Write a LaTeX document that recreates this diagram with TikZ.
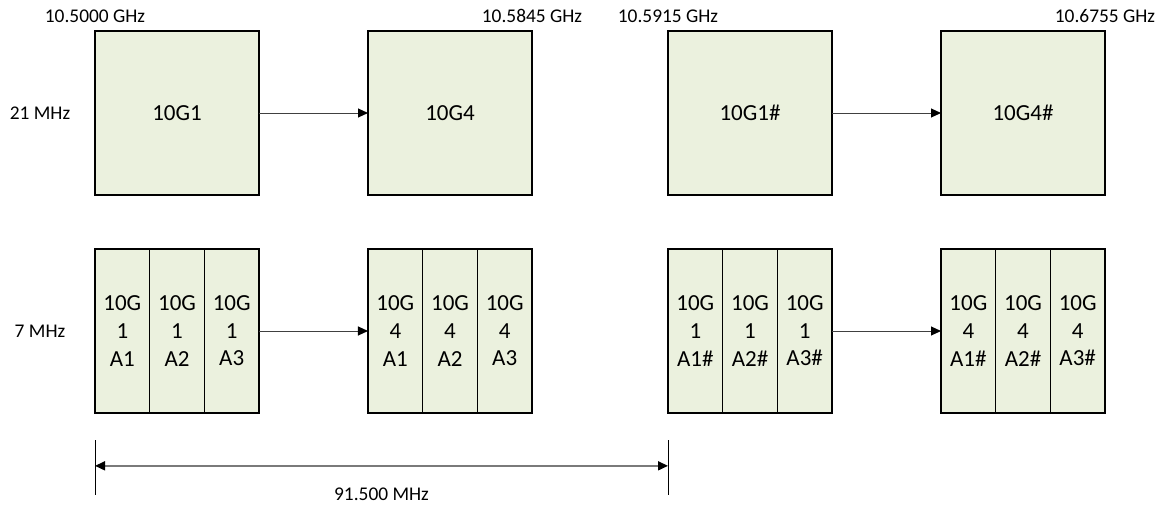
\documentclass[tikz,border=0pt]{standalone}
\usepackage{fontspec}
\setmainfont{Carlito}
\usepackage{tikz}
\usetikzlibrary{arrows.meta,positioning,calc}
\definecolor{ink}{HTML}{000000}
\definecolor{band}{HTML}{EBF1DE}
\definecolor{wire}{HTML}{404040}
\definecolor{span}{HTML}{7A7A7A}
\tikzset{
  blk/.style={draw=ink,fill=band,line width=1.5pt,outer sep=0pt,minimum width=164pt,
    minimum height=164pt,align=center,font=\fontsize{23}{27.6}\selectfont,text=ink},
  cell/.style={blk,minimum width=54.67pt,inner sep=0pt},
  link/.style={-{Triangle[length=10pt,width=9pt,color=ink]},line width=1pt,color=wire},
  dim/.style={{Triangle[length=10pt,width=9pt,color=ink]}-{Triangle[length=10pt,width=9pt,color=ink]},
    line width=1.6pt,color=span},
  tick/.style={line width=0.8pt,color=ink},
  lbl/.style={font=\fontsize{19.4}{23}\selectfont,text=ink,inner sep=0pt}
}
\begin{document}
\begin{tikzpicture}[x=1pt,y=-1pt]
  \useasboundingbox (0,0) rectangle (1162,506);
  % 21 MHz channels
  \node[blk] (g1) at (177,113) {10G1};
  \node[blk] (g4) at (450,113) {10G4};
  \node[blk] (g1s) at (750,113) {10G1\#};
  \node[blk] (g4s) at (1023,113) {10G4\#};
  % 7 MHz sub-channels
  \node[cell] (g1a1) at (122.33,331) {10G\\1\\A1};
  \node[cell,right=0pt of g1a1] (g1a2) {10G\\1\\A2};
  \node[cell,right=0pt of g1a2] (g1a3) {10G\\1\\A3};
  \node[cell] (g4a1) at (395.33,331) {10G\\4\\A1};
  \node[cell,right=0pt of g4a1] (g4a2) {10G\\4\\A2};
  \node[cell,right=0pt of g4a2] (g4a3) {10G\\4\\A3};
  \node[cell] (g1a1s) at (695.33,331) {10G\\1\\A1\#};
  \node[cell,right=0pt of g1a1s] (g1a2s) {10G\\1\\A2\#};
  \node[cell,right=0pt of g1a2s] (g1a3s) {10G\\1\\A3\#};
  \node[cell] (g4a1s) at (968.33,331) {10G\\4\\A1\#};
  \node[cell,right=0pt of g4a1s] (g4a2s) {10G\\4\\A2\#};
  \node[cell,right=0pt of g4a2s] (g4a3s) {10G\\4\\A3\#};
  \draw[link] (g1) -- (g4);
  \draw[link] (g1s) -- (g4s);
  \draw[link] (g1a3) -- (g4a1);
  \draw[link] (g1a3s) -- (g4a1s);
  % frequencies and bandwidths
  \node[lbl,anchor=base] (f1) at ($(g1.north west)+(0,-8)$) {10.5000 GHz};
  \node[lbl,anchor=base] (f2) at ($(g4.north east)+(0,-8)$) {10.5845 GHz};
  \node[lbl,anchor=base] (f3) at ($(g1s.north west)+(0,-8)$) {10.5915 GHz};
  \node[lbl,anchor=base] (f4) at ($(g4s.north east)+(0,-8)$) {10.6755 GHz};
  \node[lbl] (bw1) at (40,113) {21 MHz};
  \node[lbl] (bw2) at (40,331) {7 MHz};
  % span
  \coordinate (tl) at (95,440);
  \coordinate (bl) at (95,495);
  \coordinate (tr) at (668,440);
  \coordinate (br) at (668,495);
  \draw[tick] (tl) -- (bl);
  \draw[tick] (tr) -- (br);
  \draw[dim] ($(tl)!0.47!(bl)$) -- ($(tr)!0.47!(br)$);
  \node[lbl] (sp) at (381.5,494) {91.500 MHz};
\end{tikzpicture}
\end{document}
